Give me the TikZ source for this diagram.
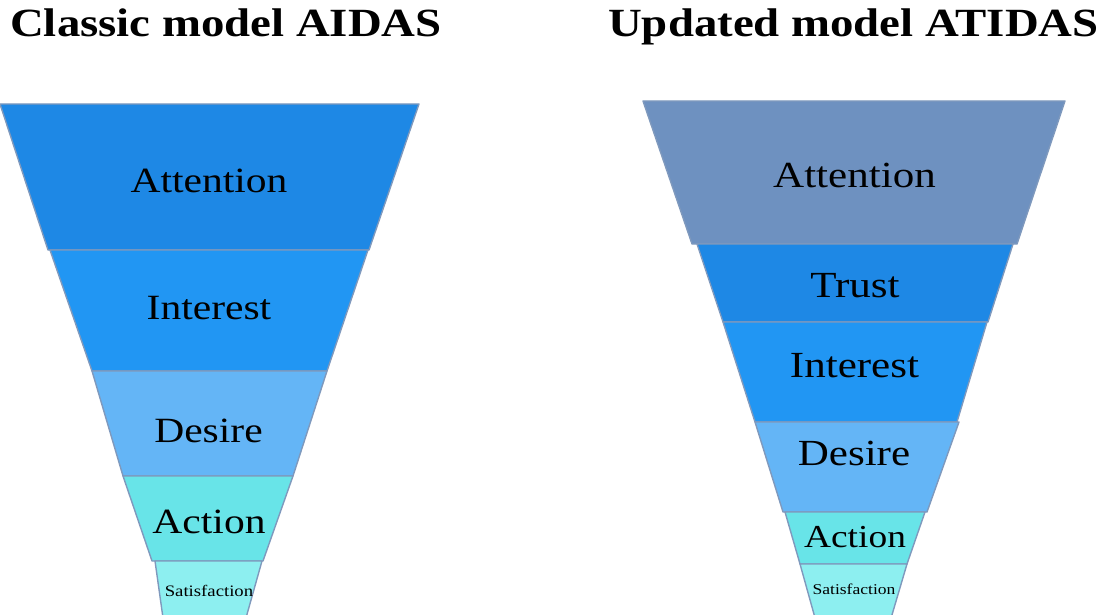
\documentclass[tikz,border=0pt]{standalone}
\usepackage{fontspec}
\setmainfont{Liberation Serif}[FakeStretch=1.17]
\usepackage{tikz}
\usepackage{xcolor}

\definecolor{attBlue}{HTML}{1E88E5}
\definecolor{attGrey}{HTML}{6E91C0}
\definecolor{intBlue}{HTML}{2196F3}
\definecolor{desBlue}{HTML}{64B5F6}
\definecolor{actCyan}{HTML}{68E4E8}
\definecolor{satCyan}{HTML}{8DEFF0}
\definecolor{segLine}{HTML}{7F99BD}

\begin{document}
\begin{tikzpicture}[x=1pt, y=-1pt,
                    seg/.style={draw=segLine, line width=1.4pt, line join=round},
                    title/.style={anchor=base west, inner sep=0pt, font=\fontsize{40}{40}\selectfont\bfseries},
                    lab/.style={anchor=base, inner sep=0pt, font=\fontsize{35.5}{36}\selectfont},
                    labR/.style={anchor=base, inner sep=0pt, font=\fontsize{36.8}{37}\selectfont}]
                    \useasboundingbox (0,0) rectangle (1111,615);
                    \clip (0,0) rectangle (1111,615);
                    % titles
                    \node[title] (titleL) at (10,37) {Classic model AIDAS};
                    \node[title] (titleR) at (608,37) {Updated model ATIDAS};
                    % classic funnel
                    \filldraw[seg, fill=attBlue] (0,104) -- (419,104) -- (369,250) -- (48,250) -- cycle;
                    \filldraw[seg, fill=intBlue] (50,250) -- (368,250) -- (327,371) -- (92,371) -- cycle;
                    \filldraw[seg, fill=desBlue] (92,371) -- (327,371) -- (293,476) -- (123,476) -- cycle;
                    \filldraw[seg, fill=actCyan] (123,476) -- (293,476) -- (263,561) -- (152,561) -- cycle;
                    \filldraw[seg, fill=satCyan] (155,561) -- (262,561) -- (244,625) -- (164,625) -- cycle;
                    \node[lab] (attL) at (209,192) {Attention};
                    \node[lab] (intL) at (209,319) {Interest};
                    \node[lab] (desL) at (208.5,442) {Desire};
                    \node[lab] (actL) at (209,533) {Action};
                    \node[anchor=base, inner sep=0pt, font=\fontsize{16}{16}\selectfont] (satL) at (209,596) {Satisfaction};
                    % updated funnel
                    \filldraw[seg, fill=attGrey] (643,101) -- (1065,101) -- (1017,244) -- (692,244) -- cycle;
                    \filldraw[seg, fill=attBlue] (697,244) -- (1013,244) -- (988,322) -- (723,322) -- cycle;
                    \filldraw[seg, fill=intBlue] (723,322) -- (987,322) -- (957,422) -- (755,422) -- cycle;
                    \filldraw[seg, fill=desBlue] (755,422) -- (959,422) -- (927,512) -- (783,512) -- cycle;
                    \filldraw[seg, fill=actCyan] (785,512) -- (925,512) -- (907,564) -- (800,564) -- cycle;
                    \filldraw[seg, fill=satCyan] (800,564) -- (907,564) -- (889,625) -- (817,625) -- cycle;
                    \node[labR] (attR) at (854.5,187) {Attention};
                    \node[labR] (trustR) at (855,297) {Trust};
                    \node[labR] (intR) at (854.5,377) {Interest};
                    \node[labR] (desR) at (854,465) {Desire};
                    \node[anchor=base, inner sep=0pt, font=\fontsize{32}{32}\selectfont] (actR) at (855,547) {Action};
                    \node[anchor=base, inner sep=0pt, font=\fontsize{15}{15}\selectfont] (satR) at (854,594) {Satisfaction};
                \end{tikzpicture}
\end{document}
